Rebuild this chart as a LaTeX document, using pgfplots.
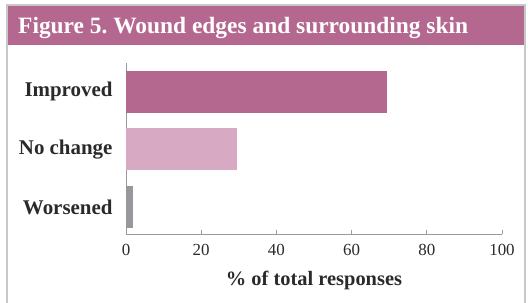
\documentclass[border=0pt]{standalone}
\usepackage{pgfplots}
\pgfplotsset{compat=1.18}
\usepackage{fontspec}
\setmainfont{Liberation Serif}
\definecolor{hdr}{HTML}{B5688F}
\definecolor{nochg}{HTML}{D8A9C2}
\definecolor{wors}{HTML}{98979C}
\definecolor{bord}{HTML}{C8C8C8}
\definecolor{axl}{HTML}{9A9A9A}
\definecolor{txt}{HTML}{2A2A2A}
\begin{document}
\begin{tikzpicture}[x=1bp,y=1bp]
\path[use as bounding box] (0,0) rectangle (528,302);
\fill[hdr] (7,257) rectangle (525,297);
\draw[bord, line width=1.3bp] (7,-2) -- (7,297) -- (525,297) -- (525,-2);
\node[anchor=base west, text=white, inner sep=0pt, font=\bfseries\fontsize{23.5}{26}\selectfont] at (18,269) {Figure 5.\ Wound edges and surrounding skin};
\begin{axis}[
  at={(126bp,68bp)}, anchor=south west,
  scale only axis, width=376bp, height=171bp,
  xmin=0, xmax=100, ymin=-0.47, ymax=2.5,
  axis x line*=bottom, axis y line*=left,
  axis line style={-, draw=axl, line width=0.9bp},
  xtick={0,20,40,60,80,100},
  xtick align=inside, major tick length=4bp,
  x tick style={draw=axl, line width=0.8bp},
  ytick={0,1,2}, yticklabels={Worsened,No change,Improved},
  y tick style={draw=none},
  /pgf/number format/assume math mode=true,
  yticklabel style={font=\bfseries\fontsize{21}{24}\selectfont, text=txt, xshift=-6bp},
  xticklabel style={font=\fontsize{17}{20}\selectfont, text=txt, yshift=-7bp},
  xlabel={\% of total responses},
  xlabel style={font=\bfseries\fontsize{20.5}{24}\selectfont, text=txt, yshift=-8bp},
  xbar, bar width=42bp, bar shift=0pt,
  clip=false,
]
\addplot[fill=hdr, draw=none] coordinates {(69.5,2)};
\addplot[fill=nochg, draw=none] coordinates {(29.5,1)};
\addplot[fill=wors, draw=none] coordinates {(1.8,0)};
\end{axis}
\end{tikzpicture}
\end{document}
